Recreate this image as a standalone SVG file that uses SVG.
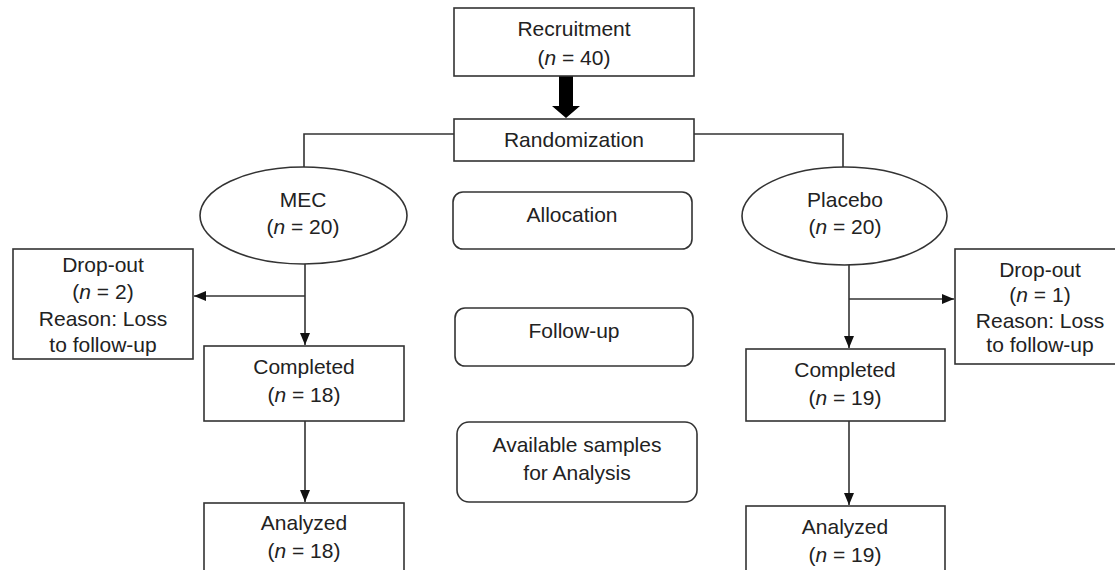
<svg xmlns="http://www.w3.org/2000/svg" width="1115" height="570" viewBox="0 0 1115 570">
  <style>
    .box { fill: #ffffff; stroke: #333333; stroke-width: 1.6; }
    .ln { fill: none; stroke: #333333; stroke-width: 1.6; }
    text { font-family: "Liberation Sans", Arial, sans-serif; font-size: 21px; fill: #222222; text-anchor: middle; }
    .it { font-style: italic; }
  </style>
  <defs>
    <marker id="arr" viewBox="0 0 12 10" refX="12" refY="5" markerWidth="12" markerHeight="10" markerUnits="userSpaceOnUse" orient="auto">
      <path d="M0,0 L12,5 L0,10 Z" fill="#111111"/>
    </marker>
  </defs>
  <rect width="1115" height="570" fill="#ffffff"/>

  <g id="connectors">
    <polygon points="559,76 573,76 573,106 580,106 566,118 552,106 559,106" fill="#000000"/>
    <path class="ln" d="M454,134 H304 V167"/>
    <path class="ln" d="M694,134 H843 V167"/>
    <path class="ln" d="M305,264 V345" marker-end="url(#arr)"/>
    <path class="ln" d="M305,296 H194" marker-end="url(#arr)"/>
    <path class="ln" d="M305,421 V502" marker-end="url(#arr)"/>
    <path class="ln" d="M849,265 V348" marker-end="url(#arr)"/>
    <path class="ln" d="M849,299 H954" marker-end="url(#arr)"/>
    <path class="ln" d="M849,421 V505" marker-end="url(#arr)"/>
  </g>

  <g id="recruitment">
    <rect class="box" x="454" y="8" width="240" height="68"/>
    <text x="574" y="36">Recruitment</text>
    <text x="574" y="65">(<tspan class="it">n</tspan> = 40)</text>
  </g>

  <g id="randomization">
    <rect class="box" x="454" y="119" width="240" height="42"/>
    <text x="574" y="147">Randomization</text>
  </g>

  <g id="mec">
    <ellipse class="box" cx="303.5" cy="215.5" rx="103.5" ry="48.5"/>
    <text x="303" y="207">MEC</text>
    <text x="303" y="234">(<tspan class="it">n</tspan> = 20)</text>
  </g>

  <g id="placebo">
    <ellipse class="box" cx="844.5" cy="216" rx="102.5" ry="49"/>
    <text x="845" y="207">Placebo</text>
    <text x="845" y="234">(<tspan class="it">n</tspan> = 20)</text>
  </g>

  <g id="allocation">
    <rect class="box" x="453" y="192" width="239" height="57" rx="10"/>
    <text x="572" y="222">Allocation</text>
  </g>

  <g id="followup">
    <rect class="box" x="455" y="308" width="238" height="58" rx="10"/>
    <text x="574" y="338">Follow-up</text>
  </g>

  <g id="available">
    <rect class="box" x="457" y="422" width="240" height="80" rx="12"/>
    <text x="577" y="452">Available samples</text>
    <text x="577" y="480">for Analysis</text>
  </g>

  <g id="dropout-left">
    <rect class="box" x="13" y="249" width="180" height="110"/>
    <text x="103" y="272">Drop-out</text>
    <text x="103" y="299">(<tspan class="it">n</tspan> = 2)</text>
    <text x="103" y="326">Reason: Loss</text>
    <text x="103" y="352">to follow-up</text>
  </g>

  <g id="dropout-right">
    <rect class="box" x="955" y="249" width="200" height="115"/>
    <text x="1040" y="277">Drop-out</text>
    <text x="1040" y="302">(<tspan class="it">n</tspan> = 1)</text>
    <text x="1040" y="328">Reason: Loss</text>
    <text x="1040" y="352">to follow-up</text>
  </g>

  <g id="completed-left">
    <rect class="box" x="204" y="346" width="200" height="75"/>
    <text x="304" y="374">Completed</text>
    <text x="304" y="402">(<tspan class="it">n</tspan> = 18)</text>
  </g>

  <g id="completed-right">
    <rect class="box" x="746" y="349" width="199" height="72"/>
    <text x="845" y="377">Completed</text>
    <text x="845" y="405">(<tspan class="it">n</tspan> = 19)</text>
  </g>

  <g id="analyzed-left">
    <rect class="box" x="204" y="503" width="200" height="80"/>
    <text x="304" y="530">Analyzed</text>
    <text x="304" y="558">(<tspan class="it">n</tspan> = 18)</text>
  </g>

  <g id="analyzed-right">
    <rect class="box" x="746" y="506" width="199" height="80"/>
    <text x="845" y="534">Analyzed</text>
    <text x="845" y="562">(<tspan class="it">n</tspan> = 19)</text>
  </g>
</svg>
